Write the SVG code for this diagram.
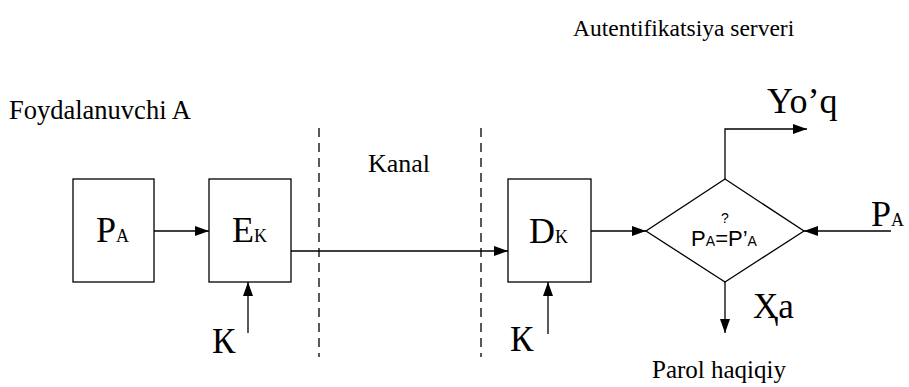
<svg xmlns="http://www.w3.org/2000/svg" width="909" height="387" viewBox="0 0 909 387">
<style>
.serif{font-family:"Liberation Serif","Times New Roman",serif;fill:#000}
.sans{font-family:"Liberation Sans",Arial,sans-serif;fill:#000}
.box{fill:#fff;stroke:#000;stroke-width:1.3}
.ln{fill:none;stroke:#000;stroke-width:1.3}
.dash{fill:none;stroke:#000;stroke-width:1.3;stroke-dasharray:9 6}
</style>
<defs>
<marker id="ah" viewBox="0 0 14 10" refX="14" refY="5" markerWidth="14" markerHeight="10" markerUnits="userSpaceOnUse" orient="auto">
<path d="M0,0 L14,5 L0,10 z" fill="#000"/>
</marker>
</defs>
<rect width="909" height="387" fill="#fff"/>
<g id="labels">
<text class="serif" x="573" y="36" font-size="23.5">Autentifikatsiya serveri</text>
<text class="serif" x="9" y="119" font-size="26.5">Foydalanuvchi A</text>
<text class="serif" x="368" y="172" font-size="26">Kanal</text>
<text class="serif" x="652" y="378" font-size="25">Parol haqiqiy</text>
<text class="serif" x="767" y="113" font-size="36">Yo’q</text>
<text class="serif" x="753" y="318" font-size="35">Ҳа</text>
<text class="serif" x="871" y="226" font-size="36">P<tspan font-size="18">A</tspan></text>
<text class="serif" x="212" y="353" font-size="35">К</text>
<text class="serif" x="510" y="351" font-size="35">К</text>
</g>
<g id="dividers">
<line class="dash" x1="319" y1="128" x2="319" y2="357"/>
<line class="dash" x1="481" y1="128" x2="481" y2="357"/>
</g>
<g id="node-pa">
<rect class="box" x="73" y="179" width="81" height="103"/>
<text class="serif" x="96" y="242" font-size="36">P<tspan font-size="18">A</tspan></text>
</g>
<g id="node-ek">
<rect class="box" x="209" y="179" width="82" height="103"/>
<text class="serif" x="232" y="242" font-size="36">E<tspan font-size="18">K</tspan></text>
</g>
<g id="node-dk">
<rect class="box" x="508" y="179" width="83" height="103"/>
<text class="serif" x="529" y="243" font-size="36">D<tspan font-size="18">K</tspan></text>
</g>
<g id="node-compare">
<polygon class="box" points="725,179 804,231 725,282 646,231"/>
<text class="sans" x="725" y="223" font-size="14" text-anchor="middle">?</text>
<text class="sans" x="724" y="246" font-size="22" text-anchor="middle">P<tspan font-size="14">A</tspan>=P’<tspan font-size="14">A</tspan></text>
</g>
<g id="connectors">
<line class="ln" x1="154" y1="231" x2="209" y2="231" marker-end="url(#ah)"/>
<line class="ln" x1="248" y1="333" x2="248" y2="282" marker-end="url(#ah)"/>
<line class="ln" x1="291" y1="251" x2="508" y2="251" stroke="#444" marker-end="url(#ah)"/>
<line class="ln" x1="548" y1="334" x2="548" y2="282" marker-end="url(#ah)"/>
<line class="ln" x1="591" y1="231" x2="646" y2="231" marker-end="url(#ah)"/>
<polyline class="ln" points="725,179 725,129 807,129" marker-end="url(#ah)"/>
<line class="ln" x1="891" y1="231" x2="804" y2="231" marker-end="url(#ah)"/>
<line class="ln" x1="725" y1="282" x2="725" y2="333" marker-end="url(#ah)"/>
</g>
</svg>
